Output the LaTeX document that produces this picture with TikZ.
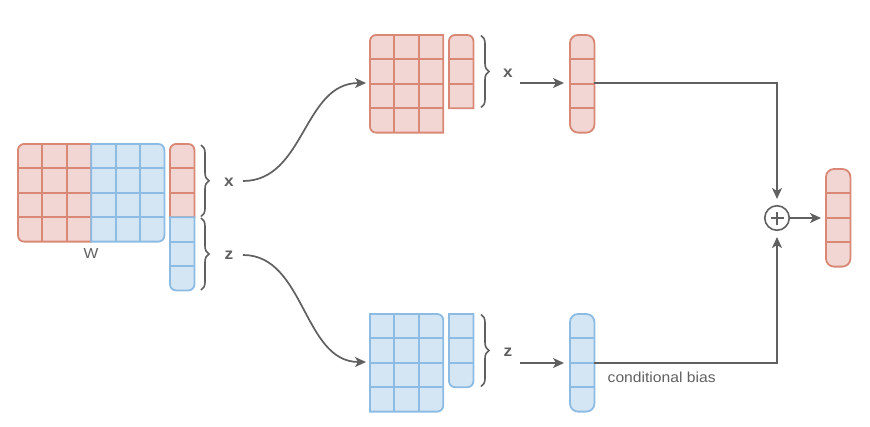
\documentclass[tikz,border=0pt]{standalone}
\usepackage{fontspec}
\setmainfont{Liberation Sans}[FakeStretch=1.08]
\usetikzlibrary{arrows.meta,decorations.pathreplacing}
\definecolor{rfill}{RGB}{241,214,211}
\definecolor{rline}{RGB}{217,136,118}
\definecolor{bfill}{RGB}{212,229,243}
\definecolor{bline}{RGB}{140,188,228}
\definecolor{gline}{RGB}{96,96,96}
% rounded path: x1 y1 x2 y2 rTL rTR rBR rBL (y grows downward)
\newcommand\rpath[8]{(#1,#2+#5) .. controls (#1,#2+0.448*#5) and (#1+0.448*#5,#2) .. (#1+#5,#2) -- (#3-#6,#2) .. controls (#3-0.448*#6,#2) and (#3,#2+0.448*#6) .. (#3,#2+#6) -- (#3,#4-#7) .. controls (#3,#4-0.448*#7) and (#3-0.448*#7,#4) .. (#3-#7,#4) -- (#1+#8,#4) .. controls (#1+0.448*#8,#4) and (#1,#4-0.448*#8) .. (#1,#4-#8) -- cycle}
% block: colour prefix, x, y, cols, rows, rTL, rTR, rBR, rBL
\newcommand\blk[9]{%
  \pgfmathsetmacro\xb{#2+#4*24.4}\pgfmathsetmacro\yb{#3+#5*24.4}%
  \fill[#1fill] \rpath{#2}{#3}{\xb}{\yb}{#6}{#7}{#8}{#9};
  \foreach \i in {1,...,#4}{\ifnum\i<#4 \draw[#1line,innerline] ({#2+\i*24.4},#3) -- ({#2+\i*24.4},\yb);\fi}
  \foreach \j in {1,...,#5}{\ifnum\j<#5 \draw[#1line,innerline] (#2,{#3+\j*24.4}) -- (\xb,{#3+\j*24.4});\fi}
  \draw[#1line,cellline] \rpath{#2}{#3}{\xb}{\yb}{#6}{#7}{#8}{#9};
}
\tikzset{
  cellline/.style={line width=1.8pt},
  innerline/.style={line width=2pt},
  conn/.style={gline,line width=1.7pt},
  arr/.style={conn,-{Stealth[length=11pt,width=10pt,inset=3pt]}},
  brc/.style={gline,line width=1.6pt,decorate,decoration={brace,amplitude=8pt,aspect=0.5}},
  lbl/.style={text=gline,font=\fontsize{16}{18}\selectfont\bfseries,inner sep=0pt},
  txt/.style={text=gline,font=\fontsize{14.5}{16}\selectfont,inner sep=0pt}
}
\begin{document}
\begin{tikzpicture}[x=1pt,y=-1pt]
\useasboundingbox (0,0) rectangle (870,426);
% left W matrix and bias vector
\blk{r}{18}{144}{3}{4}{6}{0}{0}{6}
\blk{b}{91.2}{144}{3}{4}{0}{6}{6}{0}
\blk{r}{170}{144}{1}{3}{6}{6}{0}{0}
\blk{b}{170}{217.2}{1}{3}{0}{0}{6}{6}
\node[txt] (wlbl) at (91,253.5) {W};
% braces
\draw[brc] (201,145) -- (201,216.5);
\draw[brc] (201,218) -- (201,290);
\node[lbl] (lx) at (229,182.5) {x};
\node[lbl] (lz) at (229,255.5) {z};
\coordinate (cx) at (243,181);
\coordinate (cz) at (243,255);
% top row
\blk{r}{370}{35}{3}{4}{6}{0}{0}{6}
\blk{r}{449}{35}{1}{3}{6}{6}{0}{0}
\draw[brc] (481,35.5) -- (481,107.5);
\node[lbl] (tx) at (508,73.5) {x};
\blk{r}{570}{35}{1}{4}{8}{8}{8}{8}
\coordinate (tmin) at (370,83);
\coordinate (tarr) at (520,83);
\coordinate (tvin) at (570,83);
\coordinate (tvout) at (594.4,83);
% bottom row
\blk{b}{370}{314}{3}{4}{0}{6}{6}{0}
\blk{b}{449}{314}{1}{3}{0}{0}{6}{6}
\draw[brc] (481,314.5) -- (481,386.5);
\node[lbl] (bzl) at (508,352.5) {z};
\blk{b}{570}{314}{1}{4}{8}{8}{8}{8}
\coordinate (bmin) at (370,362);
\coordinate (barr) at (520,363);
\coordinate (bvin) at (570,363);
\coordinate (bvout) at (594.4,363);
\node[txt,anchor=base west] (cb) at (607.5,382) {conditional bias};
% output
\blk{r}{826}{169}{1}{4}{8}{8}{8}{8}
\coordinate (outin) at (826,218);
\node[draw=gline,line width=1.6pt,circle,minimum size=24.5pt,inner sep=0pt] (plus) at (777,218) {};
\draw[gline,line width=1.6pt] ([xshift=-6.5pt]plus.center) -- ([xshift=6.5pt]plus.center)
  ([yshift=-6.5pt]plus.center) -- ([yshift=6.5pt]plus.center);
% connectors
\draw[arr,shorten >=4pt] (cx) .. controls (305,181) and (303,83) .. (tmin);
\draw[arr,shorten >=4pt] (cz) .. controls (305,255) and (303,362) .. (bmin);
\draw[arr,shorten >=6pt] (tarr) -- (tvin);
\draw[arr,shorten >=6pt] (barr) -- (bvin);
\draw[arr,shorten >=6pt] (tvout) -| (plus.north);
\draw[arr,shorten >=6pt] (bvout) -| (plus.south);
\draw[arr,shorten >=5pt] (plus.east) -- (outin);
\end{tikzpicture}
\end{document}
